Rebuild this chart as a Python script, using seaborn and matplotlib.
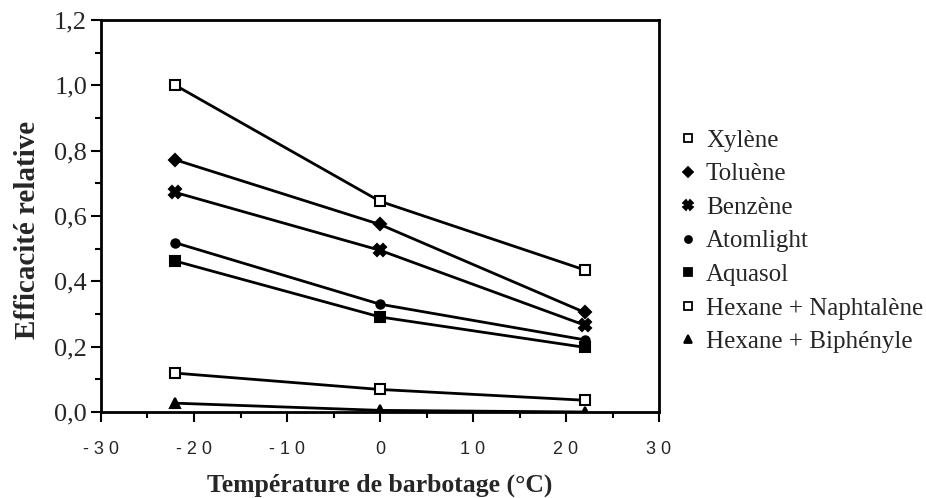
import matplotlib
matplotlib.use("Agg")
import matplotlib.pyplot as plt
from matplotlib.lines import Line2D
from matplotlib.ticker import MultipleLocator, FuncFormatter
import seaborn as sns
import pandas as pd

# ---- data ----
temperatures = [-22, 0, 22]
series_names = ["Xylène", "Toluène", "Benzène", "Atomlight", "Aquasol",
                "Hexane + Naphtalène", "Hexane + Biphényle"]
xylene = [1.00, 0.645, 0.435]
toluene = [0.772, 0.574, 0.305]
benzene = [0.672, 0.495, 0.266]
atomlight = [0.518, 0.330, 0.221]
aquasol = [0.462, 0.291, 0.198]
hex_naph = [0.119, 0.069, 0.036]
hex_biph = [0.027, 0.005, 0.000]
series_values = [xylene, toluene, benzene, atomlight, aquasol, hex_naph, hex_biph]

x_ticks = [-30, -20, -10, 0, 10, 20, 30]
y_ticks = [0.0, 0.2, 0.4, 0.6, 0.8, 1.0, 1.2]

rows = []
for name, vals in zip(series_names, series_values):
    for t, v in zip(temperatures, vals):
        rows.append({"T": t, "eff": v, "solvant": name})
df = pd.DataFrame(rows)

sns.set_style("ticks")
plt.rcParams["font.family"] = ["Liberation Serif", "DejaVu Serif"]

markers = {"Xylène": "s", "Toluène": "D", "Benzène": "X", "Atomlight": "o",
           "Aquasol": "s", "Hexane + Naphtalène": "s", "Hexane + Biphényle": "^"}
mfc = {"Xylène": "white", "Toluène": "black", "Benzène": "black", "Atomlight": "black",
       "Aquasol": "black", "Hexane + Naphtalène": "white", "Hexane + Biphényle": "black"}
msize = {"Xylène": 7, "Toluène": 6, "Benzène": 8, "Atomlight": 6,
         "Aquasol": 7, "Hexane + Naphtalène": 7, "Hexane + Biphényle": 7}

fig = plt.figure(figsize=(9.26, 4.98), dpi=100)
ax = fig.add_axes([101 / 926, 1 - 412 / 498, 558 / 926, 392 / 498])

for name in series_names:
    sub = df[df["solvant"] == name]
    sns.lineplot(data=sub, x="T", y="eff", ax=ax, color="black", linewidth=2,
                 marker=markers[name], markersize=msize[name],
                 markerfacecolor=mfc[name], markeredgecolor="black",
                 markeredgewidth=1.5, legend=False)

ax.set_xlim(-30, 30)
ax.set_ylim(0, 1.2)
ax.set_xticks(x_ticks)
ax.set_yticks(y_ticks)
ax.xaxis.set_minor_locator(MultipleLocator(5))
ax.yaxis.set_minor_locator(MultipleLocator(0.1))
ax.yaxis.set_major_formatter(FuncFormatter(lambda v, p: f"{v:.1f}".replace(".", ",")))
ax.xaxis.set_major_formatter(FuncFormatter(lambda v, p: " ".join(f"{int(v)}")))
ax.tick_params(axis="both", which="both", direction="out", color="black", width=1.5)
ax.tick_params(axis="both", which="major", length=7)
ax.tick_params(axis="both", which="minor", length=4)
ax.tick_params(axis="y", labelsize=19, pad=3)
ax.tick_params(axis="x", labelsize=13, pad=14)
for lbl in ax.get_xticklabels():
    lbl.set_fontfamily(["Liberation Sans", "DejaVu Sans"])
for s in ax.spines.values():
    s.set_linewidth(2)
    s.set_color("black")

ax.set_xlabel("Température de barbotage (°C)", fontsize=18.5, fontweight="bold", labelpad=11)
ax.set_ylabel("Efficacité relative", fontsize=21, fontweight="bold")
ax.yaxis.set_label_coords(-0.107, 0.464)

handles = [Line2D([], [], linestyle="none", marker=markers[n], markersize=msize[n] - 1,
                  markerfacecolor=mfc[n], markeredgecolor="black", markeredgewidth=1.3)
           for n in series_names]
fig.legend(handles, series_names, loc="upper left", bbox_to_anchor=(678 / 926, 1 - 129.5 / 498),
           frameon=False, fontsize=18, handlelength=0.8, handletextpad=0.32,
           labelspacing=0.44, borderpad=0, borderaxespad=0)

fig.savefig("out.png", dpi=100, facecolor="white")
